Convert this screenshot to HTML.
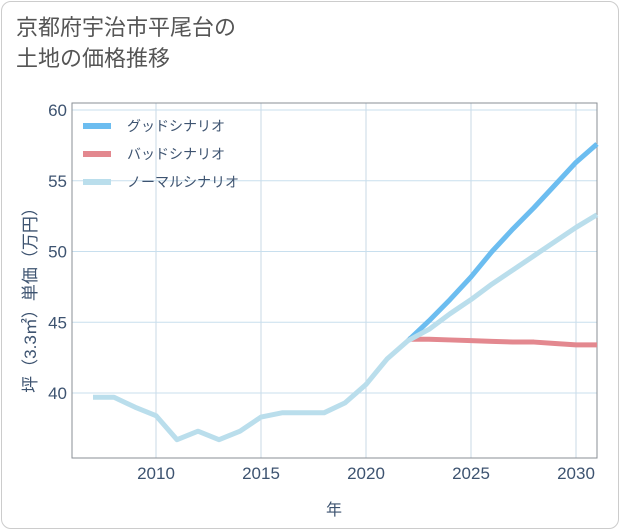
<!DOCTYPE html>
<html><head><meta charset="utf-8">
<style>
body{margin:0;width:621px;height:530px;background:#fff;font-family:"Liberation Sans","Noto Sans CJK JP",sans-serif;}
#card{position:absolute;left:1px;top:1px;width:616px;height:526px;border:1px solid #ccc;border-radius:10px;background:#fff;}
#title{position:absolute;left:16px;top:12px;font-size:22px;line-height:31px;color:#555;}
</style></head><body>
<div id="card"></div>
<div id="title">京都府宇治市平尾台の<br>土地の価格推移</div>
<svg id="chart" width="621" height="530" style="position:absolute;left:0;top:0"></svg>
<script>
const years=[2007,2008,2009,2010,2011,2012,2013,2014,2015,2016,2017,2018,2019,2020,2021,2022,2023,2024,2025,2026,2027,2028,2029,2030,2031];
const normal=[39.7,39.7,39.0,38.4,36.7,37.3,36.7,37.3,38.3,38.6,38.6,38.6,39.3,40.6,42.4,43.7,44.5,45.6,46.6,47.7,48.7,49.7,50.7,51.7,52.6];
const goodYears=[2022,2023,2024,2025,2026,2027,2028,2029,2030,2031];
const good=[43.7,45.1,46.6,48.2,50.0,51.6,53.1,54.7,56.3,57.6];
const badYears=[2022,2023,2024,2025,2026,2027,2028,2029,2030,2031];
const bad=[43.8,43.8,43.75,43.7,43.65,43.6,43.6,43.5,43.4,43.4];
const xTicks=[2010,2015,2020,2025,2030];
const yTicks=[40,45,50,55,60];
const L=72,R=597,T=103,B=458;
const x=v=>L+(v-2006)*21;
const y=v=>393-(v-40)*14.15;
const svg=document.getElementById('chart');
const NS='http://www.w3.org/2000/svg';
const TC='#3d5370';
function mk(tag,attrs,parent){const e=document.createElementNS(NS,tag);for(const k in attrs)e.setAttribute(k,attrs[k]);(parent||svg).appendChild(e);return e;}
xTicks.forEach(t=>{
 const l=mk('line',{x1:x(t),x2:x(t),y1:T,y2:B,stroke:'#c8d8e6','stroke-width':1});
 
 
 const tx=mk('text',{x:x(t),y:B+21,'text-anchor':'middle','font-size':17,fill:TC});
 tx.textContent=t;
 
 
});
yTicks.forEach(t=>{
 const l=mk('line',{x1:L,x2:R,y1:y(t),y2:y(t),stroke:'#c8dfee','stroke-width':1});
 
 
 const tx=mk('text',{x:L-5,y:y(t)+6,'text-anchor':'end','font-size':17,fill:TC});
 tx.textContent=t;
 
 
});
const frame=mk('rect',{x:L,y:T,width:R-L,height:B-T,fill:'none',stroke:'#8a8f96','stroke-width':1});


function series(xs,vs,color,name){
 const p=mk('polyline',{points:xs.map((v,i)=>x(v)+','+y(vs[i])).join(' '),fill:'none',stroke:color,'stroke-width':5,'stroke-linejoin':'round'});
 
 
}
series(badYears,bad,'#e3888f','bad-scenario-line');
series(goodYears,good,'#6cbdf0','good-scenario-line');
series(years,normal,'#badeec','normal-scenario-line');
const legend=[['グッドシナリオ','#6cbdf0'],['バッドシナリオ','#e3888f'],['ノーマルシナリオ','#badeec']];
legend.forEach((e,i)=>{
 const yy=126+i*28;
 const l=mk('line',{x1:83,x2:111,y1:yy,y2:yy,stroke:e[1],'stroke-width':6});
 
 
 const t=mk('text',{x:127,y:yy+5,'font-size':14,fill:TC});
 t.textContent=e[0];
 
 
});
const xt=mk('text',{x:334,y:515,'text-anchor':'middle','font-size':16,fill:TC});
xt.textContent='年';


const yt=mk('text',{x:0,y:0,'text-anchor':'middle','font-size':17,fill:TC,transform:'translate(36,296) rotate(-90)'});
yt.textContent='坪（3.3㎡）単価（万円）';


</script>
</body></html>
